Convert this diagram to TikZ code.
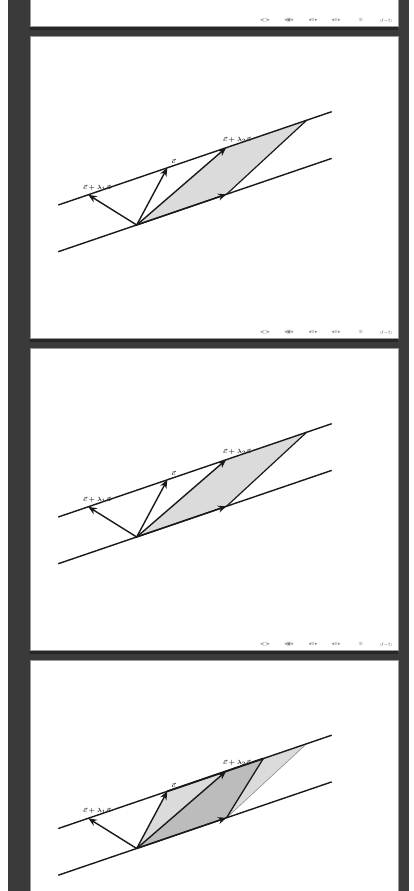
\documentclass[tikz,border=0pt]{standalone}
\usepackage{fontspec}
\newfontfamily\symfont{DejaVu Sans}
\usetikzlibrary{arrows.meta}
\definecolor{framegray}{RGB}{58,58,58}
\definecolor{shadowgray}{RGB}{38,38,38}

\newcommand\mynav[2]{%
  \node[nav] (#2n1) at (265,#1) {◂□▸};
  \node[nav] (#2n2) at (289,#1) {◂▣▸};
  \node[nav] (#2n3) at (313,#1) {◂≡▸};
  \node[nav] (#2n4) at (336,#1) {◂≡▸};
  \node[nav] (#2n5) at (361,#1) {≡};
  \node[nav] (#2n6) at (386,#1) {↺∽↻};
}

\newcommand\mypts[1]{%
  \coordinate (UL#1) at (58.3,205);
  \coordinate (UR#1) at (331.7,111.7);
  \coordinate (DL#1) at (58.3,251.7);
  \coordinate (DR#1) at (331.7,158.4);
  \coordinate (O#1) at (136.7,225);
  \coordinate (P#1) at (226.5,194.3);
  \coordinate (L#1) at (88.3,194.8);
  \coordinate (C#1) at (167.3,167.8);
  \coordinate (Q#1) at (226,147.8);
  \coordinate (R#1) at (306.7,120.2);
  \coordinate (S#1) at (263.3,135);
}

\newcommand\mylines[1]{%
  \draw[vecline] (UL#1) -- (UR#1);
  \draw[vecline] (DL#1) -- (DR#1);
  \draw[vecarrow] (O#1) -- (L#1);
  \draw[vecarrow] (O#1) -- (C#1);
  \draw[vecarrow] (O#1) -- (Q#1);
  \draw[vecarrow] (O#1) -- (P#1);
  \node[lab] (lbA#1) at (97,187.5) {$\vec c+\lambda_1\vec a$};
  \node[lab] (lbC#1) at (173.5,161.5) {$\vec c$};
  \node[lab] (lbB#1) at (237,139.5) {$\vec c+\lambda_2\vec a$};
}

\begin{document}
\begin{tikzpicture}[x=1pt,y=-1pt,
  vecline/.style={line width=1.4pt, black!90},
  vecarrow/.style={line width=1.4pt, black!90, -{Stealth[length=8.5pt,width=7pt]}},
  lab/.style={font=\fontsize{6.5}{7}\selectfont\boldmath, inner sep=0pt, text=black!85},
  nav/.style={font=\symfont\fontsize{4.8}{5}\selectfont, text=black!50, inner sep=0pt},
  slide/.style={fill=white, draw=black!40, line width=0.6pt},
  shade/.style={fill=black, fill opacity=0.14}]

\useasboundingbox (0,0) rectangle (414,891);
\fill[white] (0,0) rectangle (414,891);
\fill[framegray] (8,0) rectangle (409,891);

% shadows
\fill[shadowgray] (30,26) rectangle (398,30);
\fill[shadowgray] (30,338) rectangle (398,342);
\fill[shadowgray] (30,650) rectangle (398,654);

% slides
\path[slide] (30,-2) rectangle (398,26);
\path[slide] (30,36) rectangle (398,338);
\path[slide] (30,348) rectangle (398,650);
\path[slide] (30,660) rectangle (398,893);

\mynav{20.5}{a}
\mynav{332.5}{b}
\mynav{644.5}{c}

% slide 2
\begin{scope}
  \mypts{a}
  \fill[black!14] (Oa) -- (Pa) -- (Ra) -- (Qa) -- cycle;
  \draw[line width=1.2pt, black!90] (Pa) -- (Ra);
  \mylines{a}
\end{scope}

% slide 3
\begin{scope}[shift={(0,312)}]
  \mypts{b}
  \fill[black!14] (Ob) -- (Pb) -- (Rb) -- (Qb) -- cycle;
  \draw[line width=1.2pt, black!90] (Pb) -- (Rb);
  \mylines{b}
\end{scope}

% slide 4
\begin{scope}[shift={(0,623.5)}]
  \mypts{c}
  \fill[shade] (Oc) -- (Pc) -- (Rc) -- (Qc) -- cycle;
  \fill[shade] (Oc) -- (Pc) -- (Sc) -- (Cc) -- cycle;
  \draw[line width=0.6pt, black!45] (Pc) -- (Rc);
  \draw[line width=1.3pt, black!90] (Pc) -- (Sc);
  \draw[line width=1.8pt, black!90] (Cc) -- (Sc);
  \mylines{c}
\end{scope}
\end{tikzpicture}
\end{document}
